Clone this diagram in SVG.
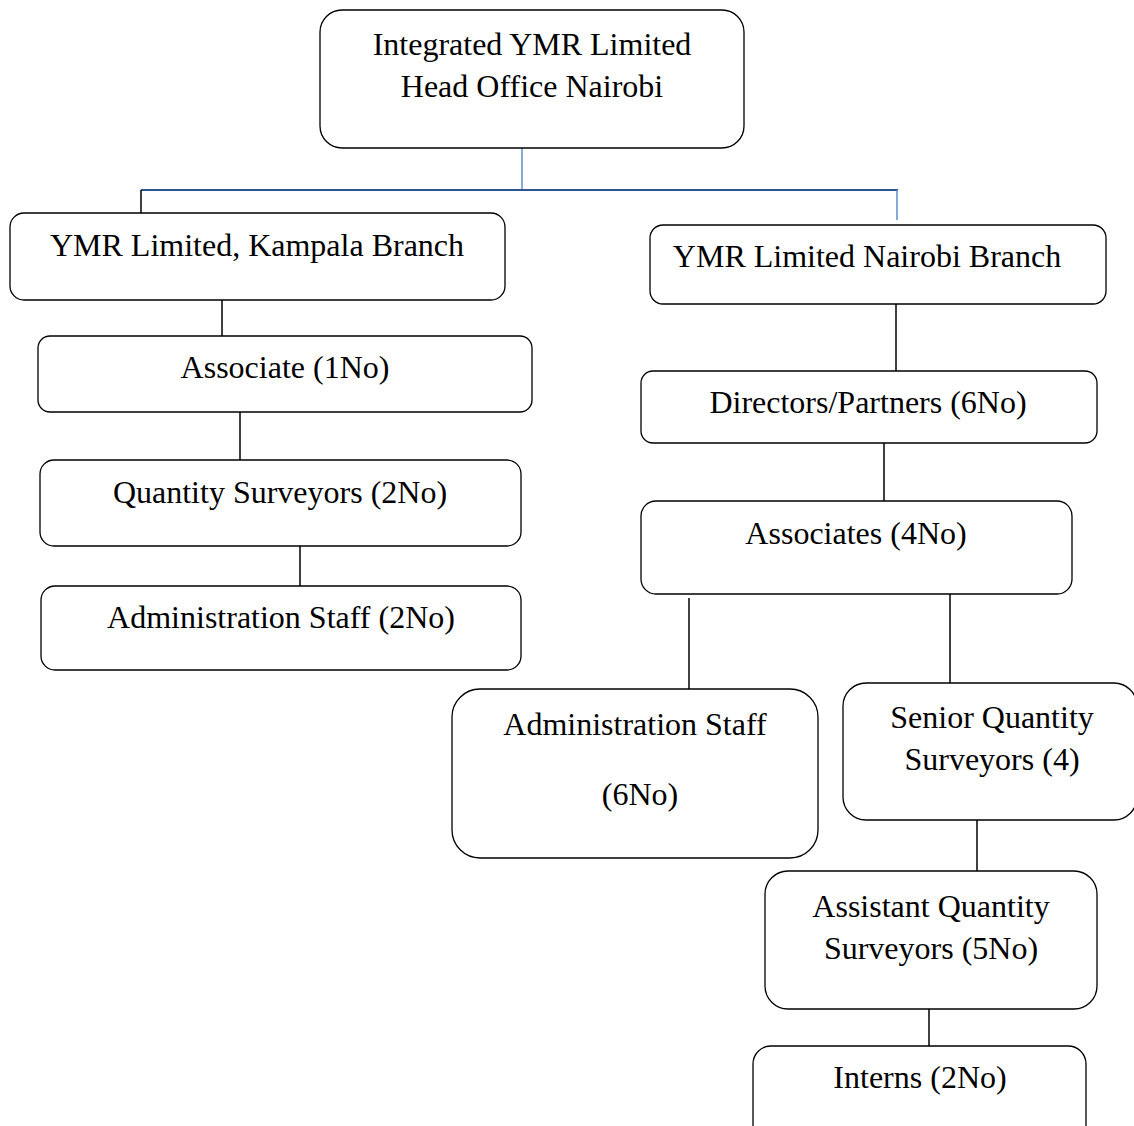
<svg xmlns="http://www.w3.org/2000/svg" width="1134" height="1126" viewBox="0 0 1134 1126">
<style>
.box{fill:#fff;stroke:#000;stroke-width:1.3}
.t{font-family:"Liberation Serif","Times New Roman",serif;font-size:32px;fill:#000;text-anchor:middle}
.ln{stroke:#000;stroke-width:1.5;fill:none}
</style>
<rect width="1134" height="1126" fill="#fff"/>
<g id="connectors">
<line x1="522" y1="148" x2="522" y2="190" stroke="#5b8ccf" stroke-width="1.5"/>
<line x1="141" y1="190" x2="898" y2="190" stroke="#2f5496" stroke-width="2"/>
<line class="ln" x1="141" y1="190" x2="141" y2="213"/>
<line x1="897" y1="190" x2="897" y2="220" stroke="#5b8ccf" stroke-width="1.5"/>
<line class="ln" x1="222" y1="300" x2="222" y2="336"/>
<line class="ln" x1="240" y1="412" x2="240" y2="460"/>
<line class="ln" x1="300" y1="546" x2="300" y2="586"/>
<line class="ln" x1="896" y1="304" x2="896" y2="371"/>
<line class="ln" x1="884" y1="443" x2="884" y2="501"/>
<line class="ln" x1="689" y1="598" x2="689" y2="689"/>
<line class="ln" x1="950" y1="594" x2="950" y2="683"/>
<line class="ln" x1="977" y1="820" x2="977" y2="871"/>
<line class="ln" x1="929" y1="1009" x2="929" y2="1046"/>
</g>
<g id="head">
<rect class="box" x="320" y="10" width="424" height="138" rx="22"/>
<text class="t" x="532" y="55">Integrated YMR Limited</text>
<text class="t" x="532" y="97">Head Office Nairobi</text>
</g>
<g id="kampala">
<rect class="box" x="10" y="213" width="495" height="87" rx="14"/>
<text class="t" x="257" y="256">YMR Limited, Kampala Branch</text>
</g>
<g id="k-associate">
<rect class="box" x="38" y="336" width="494" height="76" rx="12"/>
<text class="t" x="285" y="378">Associate (1No)</text>
</g>
<g id="k-qs">
<rect class="box" x="40" y="460" width="481" height="86" rx="14"/>
<text class="t" x="280" y="503">Quantity Surveyors (2No)</text>
</g>
<g id="k-admin">
<rect class="box" x="41" y="586" width="480" height="84" rx="14"/>
<text class="t" x="281" y="628">Administration Staff (2No)</text>
</g>
<g id="nairobi">
<rect class="box" x="650" y="225" width="456" height="79" rx="13"/>
<text class="t" x="867" y="267">YMR Limited Nairobi Branch</text>
</g>
<g id="directors">
<rect class="box" x="641" y="371" width="456" height="72" rx="12"/>
<text class="t" x="868" y="413">Directors/Partners (6No)</text>
</g>
<g id="associates">
<rect class="box" x="641" y="501" width="431" height="93" rx="15"/>
<text class="t" x="856" y="544">Associates (4No)</text>
</g>
<g id="n-admin">
<rect class="box" x="452" y="689" width="366" height="169" rx="28"/>
<text class="t" x="635" y="735">Administration Staff</text>
<text class="t" x="640" y="805">(6No)</text>
</g>
<g id="senior-qs">
<rect class="box" x="843" y="683" width="294" height="137" rx="23"/>
<text class="t" x="992" y="728">Senior Quantity</text>
<text class="t" x="992" y="770">Surveyors (4)</text>
</g>
<g id="assistant-qs">
<rect class="box" x="765" y="871" width="332" height="138" rx="23"/>
<text class="t" x="931" y="917">Assistant Quantity</text>
<text class="t" x="931" y="959">Surveyors (5No)</text>
</g>
<g id="interns">
<rect class="box" x="753" y="1046" width="333" height="100" rx="18"/>
<text class="t" x="920" y="1088">Interns (2No)</text>
</g>
</svg>
